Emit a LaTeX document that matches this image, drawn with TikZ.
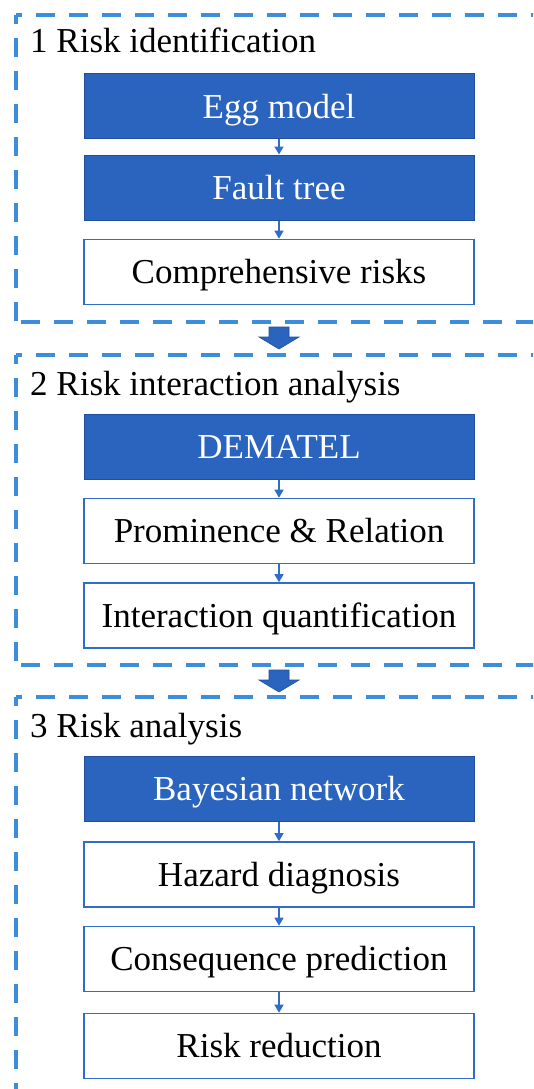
\documentclass[tikz,border=0pt]{standalone}
\usepackage{fontspec}
\setmainfont{Liberation Serif}
\usetikzlibrary{arrows.meta}
\definecolor{stageblue}{HTML}{3C8DDB}
\definecolor{boxblue}{HTML}{2A64BE}
\definecolor{boxedge}{HTML}{2F6DC8}
\definecolor{darkedge}{HTML}{1F4F9E}
\tikzset{
  stageline/.style={stageblue, line width=4pt, dash pattern=on 19pt off 14pt},
  basebox/.style={rectangle, minimum width=390pt, minimum height=65pt, inner sep=0pt,
    font=\fontsize{35}{40}\selectfont, text height=31.5pt, text depth=7.9pt},
  darkbox/.style={basebox, fill=boxblue, draw=darkedge, line width=1pt, text=white},
  lightbox/.style={basebox, fill=white, draw=boxedge, line width=1.6pt, text=black},
  stagetitle/.style={anchor=base west, inner sep=0pt, font=\fontsize{35}{40}\selectfont},
  link/.style={boxedge, line width=1.5pt, -{Triangle[width=9pt,length=8pt]}},
  bigarrow/.style={fill=boxblue, draw=darkedge, line width=0.6pt},
}
\begin{document}
\begin{tikzpicture}[x=1pt, y=-1pt]
\useasboundingbox (0,0) rectangle (533,1089);
\fill[white] (0,0) rectangle (533,1089);
\begin{scope}
\clip (0,0) rectangle (533,1089);

% stage frames (open to the right; the last one runs off the bottom)
\coordinate (f1tl) at (16,15);
\coordinate (f1bl) at (16,322);
\draw[stageline, dash phase=13pt] (f1tl) -- ++(560,0);
\draw[stageline, dash phase=10pt] (f1tl) -- (f1bl);
\draw[stageline, dash phase=28pt] (f1bl) -- ++(560,0);

\coordinate (f2tl) at (16,355);
\coordinate (f2bl) at (16,665);
\draw[stageline, dash phase=13pt] (f2tl) -- ++(560,0);
\draw[stageline, dash phase=10pt] (f2tl) -- (f2bl);
\draw[stageline, dash phase=28pt] (f2bl) -- ++(560,0);

\coordinate (f3tl) at (16,697);
\coordinate (f3bl) at (16,1110);
\draw[stageline, dash phase=13pt] (f3tl) -- ++(560,0);
\draw[stageline, dash phase=10pt] (f3tl) -- (f3bl);
\end{scope}

% stage titles
\node[stagetitle] (t1) at (30,53) {1 Risk identification};
\node[stagetitle] (t2) at (30,395) {2 Risk interaction analysis};
\node[stagetitle] (t3) at (30,737) {3 Risk analysis};

% stage 1
\node[darkbox]  (egg)   at (279,106.5) {Egg model};
\node[darkbox]  (fault) at (279,187.5) {Fault tree};
\node[lightbox] (comp)  at (279,272)   {Comprehensive risks};
\draw[link] (egg.south) -- (fault.north);
\draw[link] (fault.south) -- (comp.north);

% stage 2
\node[darkbox]  (dem)   at (279,447)   {DEMATEL};
\node[lightbox] (prom)  at (279,531)   {Prominence \& Relation};
\node[lightbox] (inter) at (279,615.5) {Interaction quantification};
\draw[link] (dem.south) -- (prom.north);
\draw[link] (prom.south) -- (inter.north);

% stage 3
\node[darkbox]  (bayes) at (279,789)   {Bayesian network};
\node[lightbox] (haz)   at (279,874.5) {Hazard diagnosis};
\node[lightbox] (cons)  at (279,959)   {Consequence prediction};
\node[lightbox] (red)   at (279,1046)  {Risk reduction};
\draw[link] (bayes.south) -- (haz.north);
\draw[link] (haz.south) -- (cons.north);
\draw[link] (cons.south) -- (red.north);

% block arrows between stages
\draw[bigarrow] (269,327) -- (289,327) -- (289,337) -- (299,337) -- (279,349)
  -- (259,337) -- (269,337) -- cycle;
\draw[bigarrow] (269,670) -- (289,670) -- (289,680) -- (299,680) -- (279,692)
  -- (259,680) -- (269,680) -- cycle;
\end{tikzpicture}
\end{document}
